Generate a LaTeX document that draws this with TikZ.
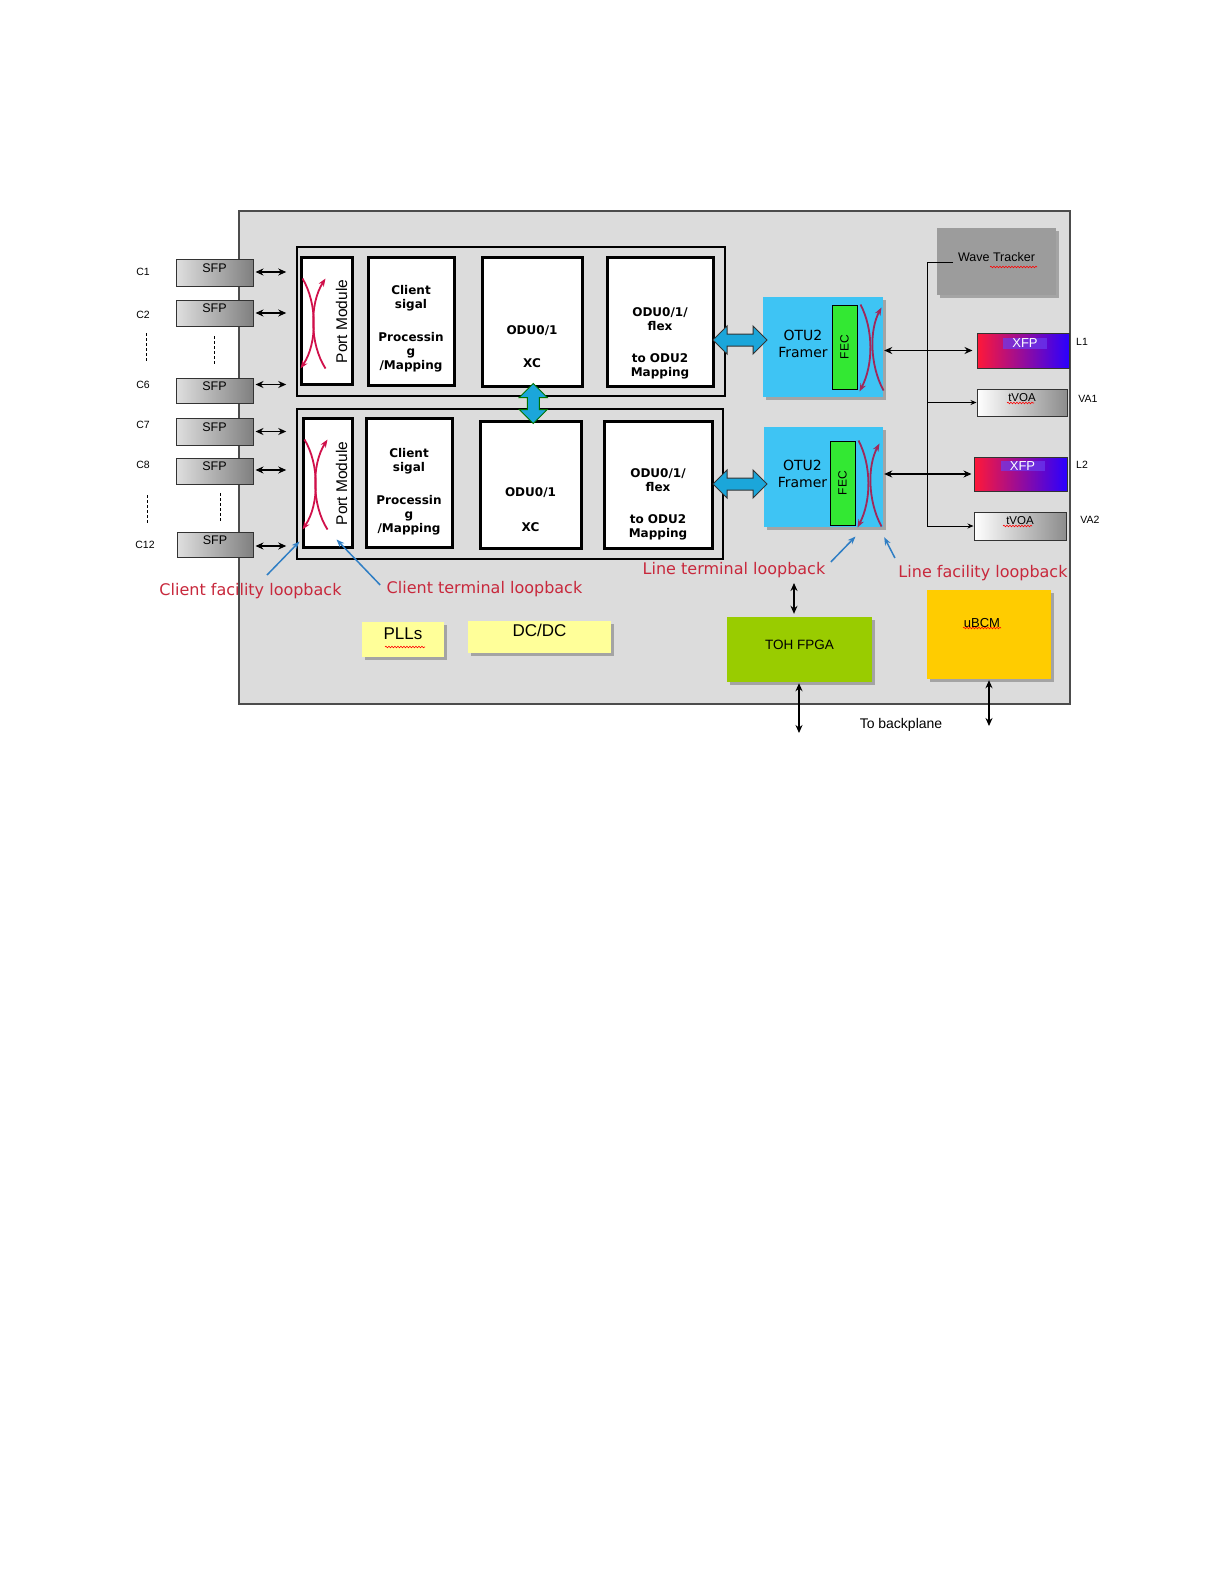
\documentclass[tikz,border=0pt]{standalone}
\usepackage{fontspec}
\setmainfont{Liberation Sans}
\newfontfamily\dvs{DejaVu Sans}
\usetikzlibrary{fit,calc,arrows.meta,shapes.arrows,shadows,decorations.pathmorphing}
\definecolor{panelc}{HTML}{DCDCDC}
\definecolor{lbred}{HTML}{C8283C}
\definecolor{lbblue}{HTML}{2F7EC4}
\definecolor{otuc}{HTML}{3EC4F4}
\definecolor{fecc}{HTML}{33E833}
\definecolor{tohc}{HTML}{99CC00}
\definecolor{ubcmc}{HTML}{FFCC00}
\definecolor{palec}{HTML}{FFFF99}
\definecolor{wavec}{HTML}{9C9C9C}
\definecolor{fatc}{HTML}{1BA6DA}
\definecolor{loopr}{HTML}{D0104A}
\definecolor{loopp}{HTML}{A0285A}
\definecolor{xfpl}{HTML}{FF1838}
\definecolor{xfpm}{HTML}{B01CC8}
\definecolor{xfpr}{HTML}{2A00FF}
\definecolor{xfphl}{HTML}{6A3CF0}
\newcommand\pmloop[1]{%
  \draw[loopa] ($(#1.north west)+(3,23)$) .. controls ($(#1.north west)+(18,48)$) and ($(#1.north west)+(18,88)$) .. ($(#1.north west)+(1,113)$);
  \draw[loopa] ($(#1.north west)+(26,113)$) .. controls ($(#1.north west)+(10,88)$) and ($(#1.north west)+(10,48)$) .. ($(#1.north west)+(26,23)$);}
\newcommand\lnloop[1]{%
  \draw[loopb] ($(#1.north east)+(3,0)$) .. controls ($(#1.north east)+(16,25)$) and ($(#1.north east)+(16,60)$) .. ($(#1.south east)+(2,2)$);
  \draw[loopb] ($(#1.south east)+(26,1)$) .. controls ($(#1.south east)+(12,-25)$) and ($(#1.north east)+(12,25)$) .. ($(#1.north east)+(24,3)$);}
\begin{document}
\begin{tikzpicture}[x=1pt,y=-1pt,
  panel/.style={draw=black!70, line width=1.5pt, fill=panelc, inner sep=0pt},
  holder/.style={draw=black, line width=1.5pt, fill=panelc, inner sep=0pt},
  inbox/.style={draw=black, line width=3pt, fill=white, inner sep=0pt},
  boldtxt/.style={font=\dvs\bfseries\fontsize{12}{14}\selectfont, align=center},
  sfpbox/.style={draw=black!80, line width=1pt, left color=gray!25, right color=gray, inner sep=0pt, font=\fontsize{12.5}{14}\selectfont},
  voabox/.style={draw=black!80, line width=1pt, left color=white, right color=gray!90, inner sep=0pt, font=\fontsize{11.5}{13}\selectfont},
  xfpbox/.style={draw=black!80, line width=1pt, left color=xfpl, middle color=xfpm, right color=xfpr, inner sep=0pt},
  xfptxt/.style={fill=xfphl, fill opacity=0.7, text opacity=1, text=white, minimum width=44pt, inner ysep=1pt, font=\fontsize{13}{13}\selectfont},
  shad/.style={drop shadow={shadow xshift=3pt, shadow yshift=-3pt, fill=black, opacity=0.25}},
  flat/.style={inner sep=0pt, shad},
  otubox/.style={fill=otuc, inner sep=0pt, shad},
  fecbox/.style={draw=black, line width=1pt, fill=fecc, inner sep=0pt},
  dbl/.style={line width=1.4pt, {Stealth[length=8pt,width=7pt]}-{Stealth[length=8pt,width=7pt]}},
  thinar/.style={line width=0.9pt, -{Stealth[length=6pt,width=5pt]}},
  blu/.style={draw=lbblue, line width=1.5pt, -{Stealth[length=8pt,width=6pt]}},
  loopa/.style={draw=loopr, line width=1.8pt, -{Stealth[length=8pt,width=6pt]}},
  loopb/.style={draw=loopp, line width=1.8pt, -{Stealth[length=8pt,width=6pt]}},
  redlab/.style={text=lbred, font=\dvs\fontsize{16}{18}\selectfont},
  clab/.style={font=\fontsize{10.5}{12}\selectfont},
  fat/.style={double arrow, draw=black!80, line width=1pt, fill=fatc, inner sep=5.5pt,
    double arrow head extend=8pt, double arrow tip angle=90, double arrow head indent=0pt},
  squig/.style={draw=red, line width=0.6pt, decorate, decoration={snake, amplitude=0.8pt, segment length=3pt}}
]
\fill[white] (0,0) rectangle (1224,1584);
\useasboundingbox (0,0) rectangle (1224,1584);

% board
\node[panel, fit={(239,211)(1070,704)}] (board) {};

% holders
\node[holder, fit={(297,247)(725,396)}] (topC) {};
\node[holder, fit={(297,409)(723,559)}] (botC) {};

% inner boxes top
\node[inbox, fit={(301,257)(352,384)}] (pmT) {};
\node[inbox, fit={(368,257)(454,385)},
  label={[boldtxt, yshift=-7.5pt]center:{Client\\sigal\\[19pt]Processin\\g\\/Mapping}}] (clT) {};
\node[inbox, fit={(482,257)(582,386)},
  label={[boldtxt, yshift=-25pt]center:{ODU0/1\\[19pt]XC}}] (xcT) {};
\node[inbox, fit={(607,257)(713,386)},
  label={[boldtxt, yshift=-21.5pt]center:{ODU0/1/\\flex\\[18pt]to ODU2\\Mapping}}] (fxT) {};

% inner boxes bottom
\node[inbox, fit={(303,418)(352,547)}] (pmB) {};
\node[inbox, fit={(366,418)(452,547)},
  label={[boldtxt, yshift=-9.5pt]center:{Client\\sigal\\[19pt]Processin\\g\\/Mapping}}] (clB) {};
\node[inbox, fit={(480,421)(581,548)},
  label={[boldtxt, yshift=-25pt]center:{ODU0/1\\[21pt]XC}}] (xcB) {};
\node[inbox, fit={(604,421)(712,548)},
  label={[boldtxt, yshift=-19.5pt]center:{ODU0/1/\\flex\\[18pt]to ODU2\\Mapping}}] (fxB) {};

% port module text
\node[rotate=90, font=\fontsize{15.5}{16}\selectfont] (pmTt) at ($(pmT.center)+(15,1)$) {Port Module};
\node[rotate=90, font=\fontsize{15.5}{16}\selectfont] (pmBt) at ($(pmB.center)+(14,1)$) {Port Module};

% port module loops
\pmloop{pmT}
\pmloop{pmB}

% SFPs
\node[sfpbox, fit={(176,259)(253,286)}] (s1) {SFP};
\node[sfpbox, fit={(176,300)(253,326)}] (s2) {SFP};
\node[sfpbox, fit={(176,378)(253,403)}] (s6) {SFP};
\node[sfpbox, fit={(176,418)(253,445)}] (s7) {SFP};
\node[sfpbox, fit={(176,458)(253,484)}] (s8) {SFP};
\node[sfpbox, fit={(177,532)(253,557)}] (s12) {SFP};

\node[clab] (c1) at (143,272) {C1};
\node[clab] (c2) at (143,315) {C2};
\node[clab] (c6) at (143,385) {C6};
\node[clab] (c7) at (143,425) {C7};
\node[clab] (c8) at (143,465) {C8};
\node[clab] (c12) at (145,545) {C12};

\draw[densely dashed, line width=0.8pt] (146,333) -- (146,362);
\draw[densely dashed, line width=0.8pt] (214,336) -- (214,365);
\draw[densely dashed, line width=0.8pt] (147,495) -- (147,523);
\draw[densely dashed, line width=0.8pt] (220,493) -- (220,522);

% SFP arrows
\draw[dbl, shorten <=2pt, shorten >=10pt] ($(s1.east)+(0,-0.5)$) -- ($(s1.east -| topC.west)+(0,-0.5)$);
\draw[dbl, shorten <=2pt, shorten >=10pt] (s2.east) -- (s2.east -| topC.west);
\draw[dbl, shorten <=2pt, shorten >=10pt] ($(s6.east)+(0,-6)$) -- ($(s6.east -| topC.west)+(0,-6)$);
\draw[dbl, shorten <=2pt, shorten >=10pt] (s7.east) -- (s7.east -| botC.west);
\draw[dbl, shorten <=2pt, shorten >=10pt] ($(s8.east)+(0,-1)$) -- ($(s8.east -| botC.west)+(0,-1)$);
\draw[dbl, shorten <=2pt, shorten >=10pt] ($(s12.east)+(0,1.5)$) -- ($(s12.east -| botC.west)+(0,1.5)$);

% OTU2 framers
\node[otubox, fit={(763,297)(883,397)},
  label={[align=center, font=\dvs\fontsize{14}{17}\selectfont, xshift=-20pt, yshift=3pt]center:{OTU2\\Framer}}] (otuT) {};
\node[otubox, fit={(764,427)(883,527)},
  label={[align=center, font=\dvs\fontsize{14}{17}\selectfont, xshift=-21pt, yshift=3.5pt]center:{OTU2\\Framer}}] (otuB) {};
\node[fecbox, fit={(832,305)(857,389)}, label={[rotate=90, font=\fontsize{12}{12}\selectfont]center:FEC}] (fecT) {};
\node[fecbox, fit={(830,441)(855,525)}, label={[rotate=90, font=\fontsize{12}{12}\selectfont]center:FEC}] (fecB) {};

\lnloop{fecT}
\lnloop{fecB}

% fat arrows
\node[fat, minimum height=54pt] (fa1) at (740,340) {};
\node[fat, minimum height=54pt] (fa2) at (740,484) {};
\node[fat, draw=green!45!black, minimum height=40pt, rotate=90] (fa3) at ($(xcT.south)!0.5!(xcB.north)+(2,0)$) {};

% wave tracker, XFP, VOA
\node[flat, fill=wavec, fit={(937,228)(1056,295)}, font=\fontsize{12.5}{14}\selectfont] (wt) {Wave Tracker};
\node[xfpbox, fit={(977,333)(1069,368)}] (xfp1) {};
\node[xfptxt] (xfp1t) at ($(xfp1.center)+(2,-7)$) {XFP};
\node[voabox, fit={(977,389)(1067,416)}, label={[font=\fontsize{11.5}{13}\selectfont, yshift=5pt]center:tVOA}] (voa1) {};
\node[xfpbox, fit={(974,457)(1067,491)}] (xfp2) {};
\node[xfptxt] (xfp2t) at ($(xfp2.center)+(2,-8)$) {XFP};
\node[voabox, fit={(974,512)(1066,540)}, label={[font=\fontsize{11.5}{13}\selectfont, yshift=5pt]center:tVOA}] (voa2) {};

\node[clab] (l1) at (1082,342) {L1};
\node[clab] (va1) at (1088,399) {VA1};
\node[clab] (l2) at (1082,465) {L2};
\node[clab] (va2) at (1090,520) {VA2};

\coordinate (wtin) at (953,262);
\coordinate (bus) at (927,262);
\draw[thinar] (wtin) -- (bus) -- (bus |- voa2.west) -- (voa2.west);
\draw[thinar] (bus |- voa1.west) -- (voa1.west);

\draw[dbl, shorten <=1pt, shorten >=4pt] (otuT.east |- xfp1.west) -- (xfp1.west);
\draw[dbl, shorten <=1pt, shorten >=2pt] (otuB.east |- xfp2.west) -- (xfp2.west);

% lower blocks
\node[flat, fill=palec, fit={(362,622)(444,657)}, font=\fontsize{17}{18}\selectfont] (pll) {PLLs};
\node[flat, fill=palec, fit={(468,621)(611,653)}, font=\fontsize{17}{18}\selectfont] (dcdc) {DC/DC};
\node[flat, fill=tohc, fit={(727,617)(872,682)}, font=\fontsize{13.5}{15}\selectfont] (toh) {TOH FPGA};
\node[flat, fill=ubcmc, fit={(927,590)(1051,679)},
  label={[font=\fontsize{13}{14}\selectfont, xshift=-7pt, yshift=11.5pt]center:uBCM}] (ubcm) {};

% loopback labels
\node[redlab] (cfl) at (250.5,591) {Client facility loopback};
\node[redlab] (ctl) at (484.5,589) {Client terminal loopback};
\node[redlab] (ltl) at (734,570) {Line terminal loopback};
\node[redlab] (lfl) at (983,573) {Line facility loopback};

\draw[blu] (267,575) -- ($(pmB.south west)+(-2,-7)$);
\draw[blu] ($(ctl.west)+(-3,-4)$) -- ($(pmB.south)+(9,-9)$);
\draw[blu] ($(ltl.east)+(2,-8)$) -- ($(fecB.south east)+(0,11)$);
\draw[blu] ($(lfl.west)+(0,-15)$) -- ($(otuB.south east)+(1,10)$);

% backplane
\coordinate (tohup) at (794,583);
\draw[dbl, shorten >=3pt] (tohup) -- (tohup |- toh.north);
\coordinate (bp1) at (799,733);
\coordinate (bp2) at (989,726);
\draw[dbl, shorten <=1pt] (toh.south -| bp1) -- (bp1);
\draw[dbl, shorten <=1pt] (ubcm.south -| bp2) -- (bp2);
\node[font=\fontsize{14}{15}\selectfont] (bpl) at (901,725) {To backplane};

% spell-check squiggles
\draw[squig] (385,647) -- (425,647);
\draw[squig] (963,628) -- (1001,628);
\draw[squig] (1007,403) -- (1034,403);
\draw[squig] (1003,526) -- (1032,526);
\draw[squig] (990,267) -- (1037,267);
\end{tikzpicture}
\end{document}
